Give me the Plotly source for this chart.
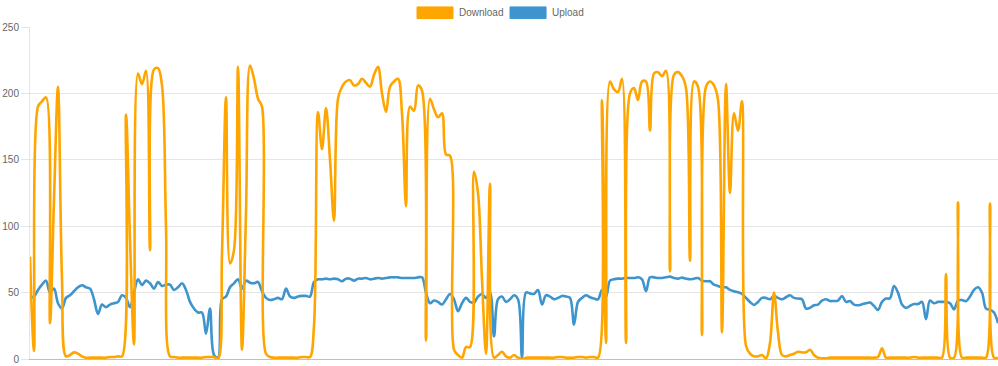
import plotly.graph_objects as go

# Sample index (time order), one per reading
download = [
    77, 6, 190, 194, 197, 27, 120, 205, 60, 2,
    3, 5, 4, 2, 1, 1, 1, 1, 1, 1,
    1.5, 1.5, 2, 2, 184, 90, 11, 215, 207, 217,
    82, 218, 219, 206, 100, 2, 1.5, 1, 1, 1,
    1, 1, 1, 1, 1.5, 1.5, 1.5, 0, 80, 197,
    72, 82, 220, 7, 110, 221, 211, 196, 190, 4,
    1.5, 1, 1, 1, 1, 1, 1, 1, 1.5, 1.5,
    1.5, 25, 186, 158, 189, 150, 104, 196, 205, 209,
    210, 206, 207, 211, 208, 205, 214, 220, 200, 186,
    205, 209, 211, 185, 115, 190, 187, 206, 202, 14,
    196, 188, 182, 185, 154, 153, 7, 3, 1, 9,
    9, 141, 125, 60, 4, 132, 1, 3, 5.5, 2,
    1, 3, 1, 0, 1, 1, 1, 1, 1, 1,
    1, 1, 1.5, 1.5, 1, 1, 1, 1.5, 1.5, 1,
    1.5, 1.5, 1, 195, 12, 209, 203, 201, 211, 12,
    200, 204, 195, 209, 209, 172, 215, 216, 213, 217,
    66, 214, 216, 213, 204, 74, 209, 205, 18, 205,
    209, 206, 195, 20, 207, 125, 185, 172, 194, 10,
    4, 2, 2, 3, 0.5, 12, 50, 20, 3, 2,
    3, 4, 5.5, 5, 5, 7, 3, 1, 0.5, 0.5,
    1, 1, 1, 1, 1, 1, 1, 1, 1, 1,
    1, 1, 1.5, 8, 1, 1, 1, 1, 1, 1,
    1, 1.5, 1, 1, 1, 1, 1, 1, 1, 64,
    1, 1, 118, 1, 1, 1, 1, 1, 1, 1,
    117, 1, 1,
]

upload = [
    46, 47, 52, 56, 59, 50, 53, 42, 38, 46,
    48, 51, 54, 55.5, 54, 53, 45, 34, 41, 39,
    41, 42, 43, 48, 46, 39, 50, 60, 55.7, 59,
    57, 53, 58, 55, 56, 56, 52, 54, 57, 52,
    43, 38, 35, 35, 19, 38, 3, 1, 45, 47,
    54, 57, 60, 53, 59, 57.5, 57, 58, 51, 46,
    44.4, 45, 46, 45, 53, 47, 46, 47, 47.5, 47.5,
    47, 58, 60, 60, 60.5, 60, 60.5, 60, 58.5, 60.5,
    60.5, 59, 60.5, 60.5, 61, 60, 60.5, 61, 60.5, 61,
    61.5, 61.5, 61.5, 61, 61, 61, 61, 61.5, 61.5, 50,
    42, 44, 43, 41, 45, 49, 45, 36, 42, 46,
    43, 42.4, 47, 49, 46, 50, 17, 45, 47, 43,
    45, 48, 45, 1, 50, 49.4, 49, 52, 41, 48,
    47, 45, 46, 47.5, 47, 46, 26, 43, 46, 48,
    46.5, 45.5, 45, 52, 47, 59, 60, 60.5, 60.5, 61,
    61, 61, 61.5, 60, 51, 61.5, 61.5, 61, 61, 61.5,
    62, 61, 60.5, 61.3, 60.5, 60, 60.5, 61, 59, 58.5,
    58.5, 56, 55, 54, 54, 52, 51, 50.2, 49, 46,
    43, 40.7, 43, 46, 46, 45, 47.5, 46, 45, 46.5,
    48, 46, 45.5, 45, 38, 38.5, 40.5, 41, 44, 45,
    43.7, 43.7, 44, 47.4, 43, 43.7, 41, 40.5, 41.2, 42,
    42.5, 40, 37, 43, 45.5, 45.7, 55, 50, 41, 38.5,
    40, 41.4, 41.4, 43, 30, 44, 42, 43, 43, 43,
    42, 37.4, 44, 44.4, 43.5, 47, 52, 54, 50, 38,
    37, 35, 27,
]
samples = list(range(len(download)))

y_ticks = [0, 50, 100, 150, 200, 250]
colors = {"Download": "#FFA500", "Upload": "#3E95CD"}

fig = go.Figure()
fig.add_trace(go.Scatter(
    x=samples, y=upload, mode="lines", name="Upload",
    line=dict(color=colors["Upload"], width=2.6, shape="spline", smoothing=1.0),
    showlegend=False, hoverinfo="skip"))
fig.add_trace(go.Scatter(
    x=samples, y=download, mode="lines", name="Download",
    line=dict(color=colors["Download"], width=2.6, shape="spline", smoothing=1.0),
    showlegend=False, hoverinfo="skip"))

font = dict(family="Liberation Sans, Arial, sans-serif", size=10, color="#666666")

# Chart.js-like legend: filled boxes with labels, top centre
legend_items = [
    ("Download", 0.3998, 0.4370, 0.4411),
    ("Upload", 0.4959, 0.5331, 0.5372),
]
for name, x0, x1, xt in legend_items:
    fig.add_shape(type="rect", xref="paper", yref="paper",
                  x0=x0, x1=x1, y0=1.0255, y1=1.0605,
                  fillcolor=colors[name], line=dict(color=colors[name], width=1))
    fig.add_annotation(xref="paper", yref="paper", x=xt, y=1.043,
                       text=name, showarrow=False, xanchor="left", yanchor="middle",
                       font=font)

fig.update_layout(
    width=998, height=366,
    margin=dict(l=30, r=0, t=27, b=7),
    paper_bgcolor="white", plot_bgcolor="white",
    font=font,
    xaxis=dict(range=[0, len(samples) - 1], showgrid=False, showticklabels=False,
               zeroline=False, showline=True, linecolor="rgba(0,0,0,0.25)",
               linewidth=1, ticks=""),
    yaxis=dict(range=[0, 250], tickvals=y_ticks, showgrid=True,
               gridcolor="rgba(0,0,0,0.1)", gridwidth=1, zeroline=False,
               showline=True, linecolor="rgba(0,0,0,0.1)", ticks="outside",
               ticklen=8, tickcolor="rgba(0,0,0,0.1)", tickfont=font),
)

fig.write_html("out.html",
               config={"displayModeBar": False, "staticPlot": True},
               post_script="document.body.style.margin='0';document.body.style.overflow='hidden';")
